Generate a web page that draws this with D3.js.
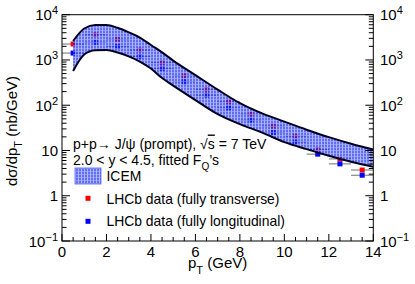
<!DOCTYPE HTML>
<html>
<head>
<meta charset="utf-8">
<title>ICEM J/psi pT</title>
<script src="https://d3js.org/d3.v7.min.js"></script>
<style>
body { margin: 0; background: #ffffff; }
text { font-family: "Liberation Sans", Arial, sans-serif; fill: #000000; }
</style>
</head>

<body>
<script>

"use strict";

// LHCb points, bin centres in pT (GeV), dsigma/dpT in nb/GeV
const ptBins = [0.5, 1.5, 2.5, 3.5, 4.5, 5.5, 6.5, 7.5, 8.5, 9.5, 10.5, 11.5, 12.5, 13.5];
const transverse = [2250, 3610, 2860, 1660, 870, 447, 224, 119, 63.5, 34.5, 20.7, 10.5, 6.5, 3.7];
const longitudinal = [1420, 2450, 2000, 1200, 645, 330, 167, 87.5, 46.8, 25, 15.3, 8.3, 5.06, 2.84];

// ICEM uncertainty band
const bandPt = [0.5, 1, 1.5, 2, 2.5, 3, 3.5, 4, 4.5, 5, 6, 7, 8, 9, 10, 11, 12, 13, 14];
const bandHigh = [2620, 4950, 5920, 5920, 5130, 4080, 3130, 2140, 1470, 970, 463, 221, 111, 65.9, 43.4, 28.8, 19.7, 14.1, 10.5];
const bandLow = [568, 1316, 1630, 1656, 1458, 1202, 922, 646, 398, 272, 130, 63.5, 38.2, 24.8, 15.3, 10.7, 7.67, 5.65, 4.34];

const xTicks = [0, 2, 4, 6, 8, 10, 12, 14];
const yTicks = [0.1, 1, 10, 100, 1000, 10000];
const yTickLabels = [["10", "\u22121"], ["1", ""], ["10", ""], ["10", "2"], ["10", "3"], ["10", "4"]];

const legendLabels = ["ICEM", "LHCb data (fully transverse)", "LHCb data (fully longitudinal)"];

const svg = d3.select("body").append("svg")
  .attr("width", 415)
  .attr("height", 284);

const padL = 62, padR = 373.3, padT = 14.7, padB = 241;

const x = d3.scaleLinear().domain([0, 14]).range([padL, padR]);
const y = d3.scaleLog().domain([0.1, 10000]).range([padB, padT]);

const defs = svg.append("defs");
const pat = defs.append("pattern")
  .attr("id", "hatch")
  .attr("patternUnits", "userSpaceOnUse")
  .attr("width", 3)
  .attr("height", 3);
pat.append("rect").attr("width", 3).attr("height", 3).attr("fill", "#1428f0").attr("fill-opacity", 0.68);
pat.append("rect").attr("x", 0).attr("y", 0).attr("width", 1).attr("height", 3).attr("fill", "#ffffff").attr("fill-opacity", 0.5);
pat.append("rect").attr("x", 1).attr("y", 0).attr("width", 2).attr("height", 1).attr("fill", "#ffffff").attr("fill-opacity", 0.3);

defs.append("clipPath").attr("id", "frame")
  .append("rect")
  .attr("x", padL).attr("y", padT)
  .attr("width", padR - padL).attr("height", padB - padT);

const plot = svg.append("g").attr("clip-path", "url(#frame)");

// error bars (pT bin width)
const series = [
  {values: transverse, color: "#ff0000"},
  {values: longitudinal, color: "#0000ff"}
];

for (let s of series) {
  plot.append("g").selectAll("line")
    .data(ptBins)
    .enter()
    .append("line")
    .attr("x1", (d) => x(d - 0.5))
    .attr("x2", (d) => x(d + 0.5))
    .attr("y1", (d, i) => y(s.values[i]))
    .attr("y2", (d, i) => y(s.values[i]))
    .attr("stroke", "#707070")
    .attr("stroke-width", 1);
}

for (let s of series) {
  plot.append("g").selectAll("rect")
    .data(ptBins)
    .enter()
    .append("rect")
    .attr("x", (d) => x(d) - 2.5)
    .attr("y", (d, i) => y(s.values[i]) - 2.5)
    .attr("width", 5)
    .attr("height", 5)
    .attr("fill", s.color);
}

// ICEM band
const band = bandPt.map((p, i) => ({pt: p, hi: bandHigh[i], lo: bandLow[i]}));

plot.append("path")
  .datum(band)
  .attr("d", d3.area().x((d) => x(d.pt)).y0((d) => y(d.lo)).y1((d) => y(d.hi)).curve(d3.curveMonotoneX))
  .attr("fill", "url(#hatch)")
  .attr("stroke", "none");

for (let key of ["hi", "lo"]) {
  plot.append("path")
    .datum(band)
    .attr("d", d3.line().x((d) => x(d.pt)).y((d) => y(d[key])).curve(d3.curveMonotoneX))
    .attr("fill", "none")
    .attr("stroke", "#000020")
    .attr("stroke-width", 2);
}

// frame
svg.append("rect")
  .attr("x", padL).attr("y", padT)
  .attr("width", padR - padL).attr("height", padB - padT)
  .attr("fill", "none")
  .attr("stroke", "#000000")
  .attr("stroke-width", 1);

// x axis ticks, pointing inward
const xMinor = d3.range(0, 14.01, 0.5);
svg.append("g").selectAll("line")
  .data(xMinor)
  .enter()
  .append("line")
  .attr("x1", (d) => x(d))
  .attr("x2", (d) => x(d))
  .attr("y1", padB)
  .attr("y2", (d) => padB - (d % 2 === 0 ? 7 : 4))
  .attr("stroke", "#000000");

svg.append("g").selectAll("text")
  .data(xTicks)
  .enter()
  .append("text")
  .attr("x", (d) => x(d))
  .attr("y", 256.5)
  .attr("text-anchor", "middle")
  .attr("font-size", 15)
  .text((d) => d);

// y axes (left and right), log ticks pointing inward
const yMinor = [];
for (let e = -1; e < 4; e++) {
  for (let m = 1; m < 10; m++) yMinor.push(m * Math.pow(10, e));
}
yMinor.push(10000);

for (let side of [{x0: padL, dir: 1}, {x0: padR, dir: -1}]) {
  svg.append("g").selectAll("line")
    .data(yMinor)
    .enter()
    .append("line")
    .attr("x1", side.x0)
    .attr("x2", (d) => side.x0 + side.dir * (yTicks.includes(d) ? 8 : 4.5))
    .attr("y1", (d) => y(d))
    .attr("y2", (d) => y(d))
    .attr("stroke", "#000000");
}

const leftLabels = svg.append("g").selectAll("text")
  .data(yTicks)
  .enter()
  .append("text")
  .attr("x", 58)
  .attr("y", (d) => y(d) + 5.5)
  .attr("text-anchor", "end")
  .attr("font-size", 15);
leftLabels.append("tspan").text((d, i) => yTickLabels[i][0]);
leftLabels.append("tspan").attr("dy", -6).attr("font-size", 11).text((d, i) => yTickLabels[i][1]);

const rightLabels = svg.append("g").selectAll("text")
  .data(yTicks)
  .enter()
  .append("text")
  .attr("x", 380)
  .attr("y", (d) => y(d) + 5.5)
  .attr("text-anchor", "start")
  .attr("font-size", 15);
rightLabels.append("tspan").text((d, i) => yTickLabels[i][0]);
rightLabels.append("tspan").attr("dy", -6).attr("font-size", 11).text((d, i) => yTickLabels[i][1]);

// axis titles
const xTitle = svg.append("text")
  .attr("x", (padL + padR) / 2)
  .attr("y", 267.5)
  .attr("text-anchor", "middle")
  .attr("font-size", 15);
xTitle.append("tspan").text("p");
xTitle.append("tspan").attr("dy", 6).attr("font-size", 11).text("T");
xTitle.append("tspan").attr("dy", -6).text(" (GeV)");

const yTitle = svg.append("text")
  .attr("transform", "translate(17," + 131 + ") rotate(-90)")
  .attr("text-anchor", "middle")
  .attr("font-size", 15);
yTitle.append("tspan").text("d\u03c3/dp");
yTitle.append("tspan").attr("dy", 5).attr("font-size", 11).text("T");
yTitle.append("tspan").attr("dy", -5).text(" (nb/GeV)");

// header text
const head1 = svg.append("text").attr("x", 73).attr("y", 148.5).attr("font-size", 14);
head1.append("tspan").text("p+p\u2192 J/\u03c8 (prompt), \u221a");
head1.append("tspan").style("text-decoration", "overline").text("s");
head1.append("tspan").text(" = 7 TeV");

const head2 = svg.append("text").attr("x", 73).attr("y", 165).attr("font-size", 14);
head2.append("tspan").text("2.0 < y < 4.5, fitted F");
head2.append("tspan").attr("dy", 5).attr("font-size", 10).text("Q");
head2.append("tspan").attr("dy", -5).text("\u2019s");

// legend
svg.append("rect")
  .attr("x", 75).attr("y", 168)
  .attr("width", 26).attr("height", 16)
  .attr("fill", "url(#hatch)")
  .attr("stroke", "#5060f0")
  .attr("stroke-width", 0.8);

svg.append("rect").attr("x", 85.5).attr("y", 195.8).attr("width", 5).attr("height", 5).attr("fill", "#ff0000");
svg.append("rect").attr("x", 85.5).attr("y", 218.8).attr("width", 5).attr("height", 5).attr("fill", "#0000ff");

svg.append("g").selectAll("text")
  .data(legendLabels)
  .enter()
  .append("text")
  .attr("x", 106.5)
  .attr("y", (d, i) => [181, 203.5, 226][i])
  .attr("font-size", 13.9)
  .text((d) => d);

</script>
</body>
</html>
